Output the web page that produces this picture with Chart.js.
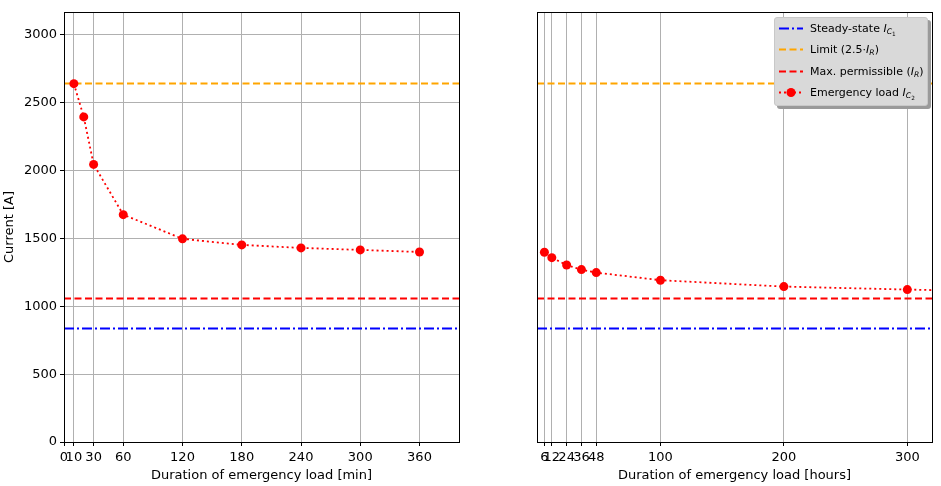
<!DOCTYPE html>
<html>
<head>
<meta charset="utf-8">
<script src="https://cdn.jsdelivr.net/npm/chart.js@4.4.1/dist/chart.umd.min.js"></script>
<style>
    body { margin: 0; background: #fff; width: 941px; height: 486px; overflow: hidden; position: relative; font-family: 'DejaVu Sans', sans-serif; }
    canvas { position: absolute; top: 0; }
    #left { left: 0; }
    #right { left: 470px; }
    .legend {
        position: absolute; left: 774px; top: 17px; width: 154px; height: 89px;
        background: #d9d9d9; border: 1px solid #c8c8c8; border-radius: 3px;
        box-shadow: 3px 3px 0 #9a9a9a; box-sizing: border-box;
        font-size: 11px; color: #000;
    }
    .row { position: absolute; left: 0; height: 21px; line-height: 21px; white-space: nowrap; }
    .row svg { position: absolute; left: 4px; top: 5px; }
    .row span { position: absolute; left: 35px; }
    sub { font-size: 70%; vertical-align: -0.3em; line-height: 0; }
    sub sub { font-size: 75%; font-style: normal; }
</style>
</head>
<body>
<canvas id="left" width="470" height="486"></canvas>
<canvas id="right" width="471" height="486"></canvas>
<div class="legend">
    <div class="row" style="top:0px">
        <svg width="24" height="11"><line x1="0" y1="5.5" x2="24" y2="5.5" stroke="#0000ff" stroke-width="1.8" stroke-dasharray="10 3 2 3"/></svg>
        <span>Steady-state <i>I</i><sub><i>C</i><sub>1</sub></sub></span>
    </div>
    <div class="row" style="top:21.4px">
        <svg width="24" height="11"><line x1="0" y1="5.5" x2="24" y2="5.5" stroke="#ffa500" stroke-width="1.8" stroke-dasharray="7 3.5"/></svg>
        <span>Limit (2.5·<i>I</i><sub><i>R</i></sub>)</span>
    </div>
    <div class="row" style="top:42.8px">
        <svg width="24" height="11"><line x1="0" y1="5.5" x2="24" y2="5.5" stroke="#ff0000" stroke-width="1.8" stroke-dasharray="7 3.5"/></svg>
        <span>Max. permissible (<i>I</i><sub><i>R</i></sub>)</span>
    </div>
    <div class="row" style="top:64.2px">
        <svg width="24" height="11"><line x1="0" y1="5.5" x2="24" y2="5.5" stroke="#ff0000" stroke-width="1.8" stroke-dasharray="2 3"/><circle cx="12" cy="5.5" r="4.5" fill="#ff0000"/></svg>
        <span>Emergency load <i>I</i><sub><i>C</i><sub>2</sub></sub></span>
    </div>
</div>
<script>
// values
const minutes = [10, 20, 30, 60, 120, 180, 240, 300, 360];
const minutesLoad = [2640, 2395, 2045, 1675, 1497, 1452, 1430, 1415, 1400];
const hours = [6, 12, 24, 36, 48, 100, 200, 300, 400];
const hoursLoad = [1398, 1358, 1304, 1270, 1248, 1192, 1145, 1123, 1105];

const minuteTicks = [0, 10, 30, 60, 120, 180, 240, 300, 360];
const hourTicks = [6, 12, 24, 36, 48, 100, 200, 300];
const currentTicks = [0, 500, 1000, 1500, 2000, 2500, 3000];

const steadyState = 833;     // I_C1
const maxPermissible = 1056; // I_R
const limitCurrent = 2640;   // 2.5 * I_R

const FONT = "'DejaVu Sans', sans-serif";
const GRID = '#b0b0b0';

Chart.defaults.font.family = FONT;
Chart.defaults.font.size = 13;
Chart.defaults.color = '#000';

const refLines = [
    { value: steadyState, color: '#0000ff', dash: [10, 3, 2, 3] },
    { value: limitCurrent, color: '#ffa500', dash: [7, 3.5] },
    { value: maxPermissible, color: '#ff0000', dash: [7, 3.5] }
];

// horizontal reference lines spanning the axes (like axhline)
const refLinePlugin = {
    id: 'refLines',
    beforeDatasetsDraw(chart) {
        const { ctx, chartArea, scales } = chart;
        ctx.save();
        ctx.beginPath();
        ctx.rect(chartArea.left, chartArea.top, chartArea.right - chartArea.left, chartArea.bottom - chartArea.top);
        ctx.clip();
        refLines.forEach(l => {
            const y = Math.round(scales.y.getPixelForValue(l.value)) - 0.5;
            ctx.strokeStyle = l.color;
            ctx.lineWidth = 1.8;
            ctx.setLineDash(l.dash);
            ctx.beginPath();
            ctx.moveTo(chartArea.left, y);
            ctx.lineTo(chartArea.right, y);
            ctx.stroke();
        });
        ctx.restore();
    }
};

// black box round the plot area
const framePlugin = {
    id: 'frame',
    afterDraw(chart) {
        const { ctx, chartArea } = chart;
        ctx.save();
        ctx.strokeStyle = '#000';
        ctx.lineWidth = 1;
        ctx.strokeRect(Math.round(chartArea.left) + 0.5, Math.round(chartArea.top) + 0.5,
            Math.round(chartArea.right - chartArea.left), Math.round(chartArea.bottom - chartArea.top));
        ctx.restore();
    }
};

function emergencySet(xs, ys) {
    return {
        data: xs.map((x, i) => ({ x: x, y: ys[i] })),
        borderColor: '#ff0000',
        backgroundColor: '#ff0000',
        borderWidth: 1.8,
        borderDash: [2, 3],
        pointRadius: 4.5,
        pointBorderWidth: 0,
        pointBackgroundColor: '#ff0000',
        tension: 0
    };
}

function xAxis(min, max, ticks, title) {
    return {
        type: 'linear',
        min: min,
        max: max,
        afterBuildTicks: axis => { axis.ticks = ticks.map(v => ({ value: v })); },
        afterFit: axis => { axis.height = 44; },
        ticks: { autoSkip: false, maxRotation: 0, padding: 4, callback: v => String(v) },
        grid: { color: GRID, lineWidth: 1, tickColor: '#000', tickLength: 4 },
        border: { display: false },
        title: { display: true, text: title, padding: { top: 1, bottom: 3 } }
    };
}

new Chart(document.getElementById('left'), {
    type: 'line',
    data: { datasets: [emergencySet(minutes, minutesLoad)] },
    options: {
        responsive: false,
        animation: false,
        layout: { padding: { top: 12, right: 11, left: 0, bottom: 0 } },
        plugins: { legend: { display: false }, tooltip: { enabled: false } },
        scales: {
            x: xAxis(0, 400, minuteTicks, 'Duration of emergency load [min]'),
            y: {
                type: 'linear',
                min: 0,
                max: 3168,
                afterBuildTicks: axis => { axis.ticks = currentTicks.map(v => ({ value: v })); },
                afterFit: axis => { axis.width = 64; },
                ticks: { padding: 3, callback: v => String(v) },
                grid: { color: GRID, lineWidth: 1, tickColor: '#000', tickLength: 4 },
                border: { display: false },
                title: { display: true, text: 'Current [A]', padding: { top: 2, bottom: 0 } }
            }
        }
    },
    plugins: [refLinePlugin, framePlugin]
});

new Chart(document.getElementById('right'), {
    type: 'line',
    data: { datasets: [emergencySet(hours, hoursLoad)] },
    options: {
        responsive: false,
        animation: false,
        layout: { padding: { top: 12, right: 9, left: 67, bottom: 0 } },
        plugins: { legend: { display: false }, tooltip: { enabled: false } },
        scales: {
            x: xAxis(0, 320, hourTicks, 'Duration of emergency load [hours]'),
            y: { type: 'linear', min: 0, max: 3168, display: false }
        }
    },
    plugins: [refLinePlugin, framePlugin]
});
</script>
</body>
</html>
